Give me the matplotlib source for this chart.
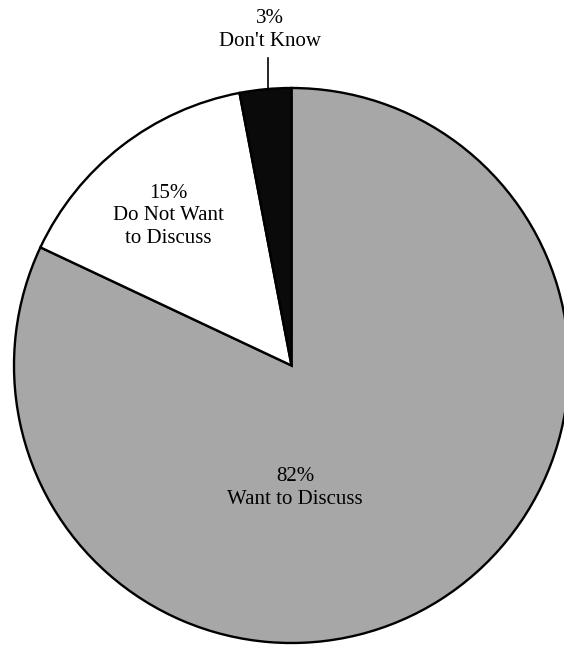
import matplotlib
matplotlib.use("Agg")
import matplotlib.pyplot as plt

categories = ["Want to Discuss", "Do Not Want\nto Discuss", "Don't Know"]
percents = [82, 15, 3]
colors = ["#a7a7a7", "#ffffff", "#0a0a0a"]

W, H = 564, 649
fig = plt.figure(figsize=(W / 100, H / 100), dpi=100)
ax = fig.add_axes([0, 0, 1, 1])

cx, cy, r = 291.5, H - 365.5, 277.5
ax.pie(percents, colors=colors, startangle=90, counterclock=False,
       center=(cx, cy), radius=r, frame=True,
       wedgeprops=dict(edgecolor="black", linewidth=1.7))
ax.set_xlim(0, W)
ax.set_ylim(0, H)
ax.set_aspect("equal")
ax.axis("off")

font = dict(family="Liberation Serif", fontsize=15, ha="center", va="center",
            linespacing=1.22)
ax.text(295, H - 488, f"{percents[0]}%\n{categories[0]}", **font)
ax.text(168, H - 216, f"{percents[1]}%\n{categories[1]}", **font)
ax.text(270, H - 30, f"{percents[2]}%\n{categories[2]}", **font)
ax.plot([268, 268], [H - 58, H - 90], color="black", lw=1.2)

fig.savefig("out.png", dpi=100)
